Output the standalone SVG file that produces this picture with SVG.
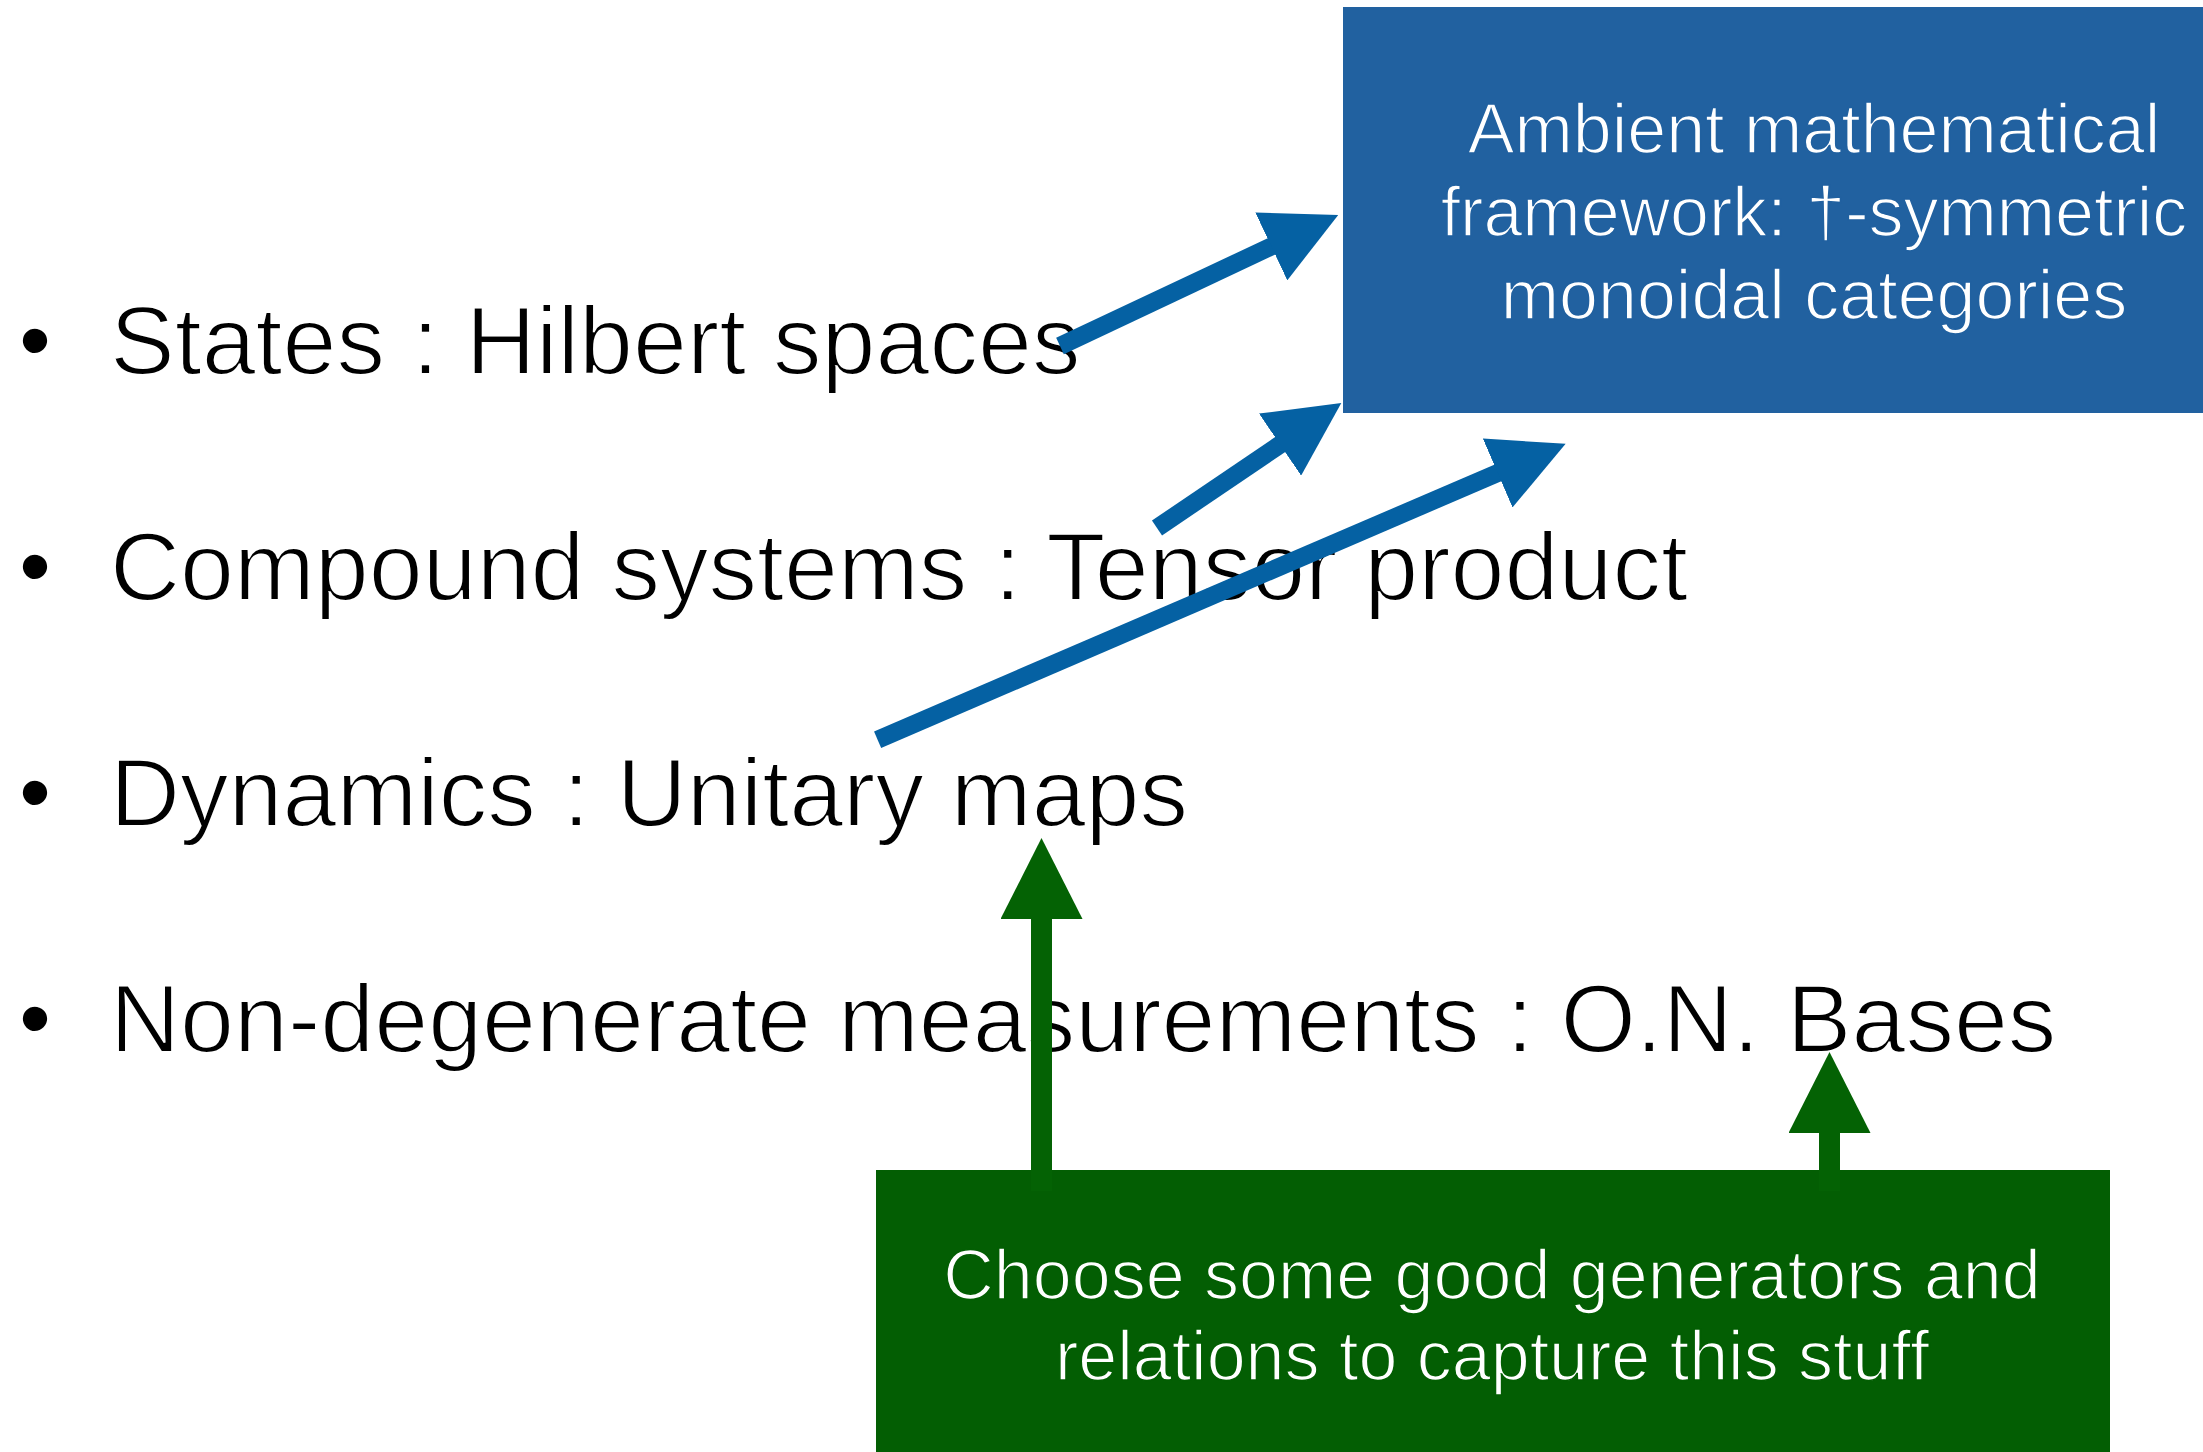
<svg xmlns="http://www.w3.org/2000/svg" width="2203" height="1452" viewBox="0 0 2203 1452">
  <style>
    .item { font-family: "Liberation Sans", Arial, sans-serif; font-size: 97px; fill: #000000; stroke: #ffffff; stroke-width: 2; }
    .boxtext { font-family: "Liberation Sans", Arial, sans-serif; font-size: 70px; fill: #ffffff; text-anchor: middle; stroke-width: 1.6; }
    #framework .boxtext { stroke: #2161a0; }
    #generators .boxtext { stroke: #035e03; }
    .blue-arrow { stroke: #0561a3; stroke-width: 18; fill: none; }
    .green-arrow { stroke: #046204; stroke-width: 21; fill: none; }
  </style>
  <defs>
    <marker id="head-blue" markerUnits="userSpaceOnUse" markerWidth="74" markerHeight="75" refX="2" refY="37.5" orient="auto">
      <path d="M0,0 L74,37.5 L0,75 z" fill="#0561a3"/>
    </marker>
    <marker id="head-green" markerUnits="userSpaceOnUse" markerWidth="81" markerHeight="82" refX="2" refY="41" orient="auto">
      <path d="M0,0 L81,41 L0,82 z" fill="#046204"/>
    </marker>
  </defs>

  <rect width="2203" height="1452" fill="#ffffff"/>

  <!-- bullet list -->
  <g id="item-states">
    <text class="item" x="18" y="373">•</text>
    <text class="item" x="110" y="374">States : Hilbert spaces</text>
  </g>
  <g id="item-compound">
    <text class="item" x="18" y="599">•</text>
    <text class="item" x="110" y="600">Compound systems : Tensor product</text>
  </g>
  <g id="item-dynamics">
    <text class="item" x="18" y="825">•</text>
    <text class="item" x="110" y="826">Dynamics : Unitary maps</text>
  </g>
  <g id="item-measurements">
    <text class="item" x="18" y="1051">•</text>
    <text class="item" x="110" y="1052">Non-degenerate measurements : O.N. Bases</text>
  </g>

  <!-- framework box -->
  <g id="framework">
    <rect x="1343" y="7" width="860" height="406" fill="#2161a0"/>
    <text class="boxtext" x="1814" y="153">Ambient mathematical</text>
    <text class="boxtext" x="1814" y="236">framework: †-symmetric</text>
    <text class="boxtext" x="1814" y="319">monoidal categories</text>
  </g>

  <!-- connectors -->
  <g id="connectors">
    <line class="blue-arrow" x1="1060" y1="346" x2="1273.1" y2="245.6" marker-end="url(#head-blue)"/>
    <line class="blue-arrow" x1="1157" y1="528" x2="1281.7" y2="443.5" marker-end="url(#head-blue)"/>
    <line class="blue-arrow" x1="877.6" y1="739.7" x2="1499.5" y2="472.2" marker-end="url(#head-blue)"/>
    <line class="green-arrow" x1="1041.5" y1="1191" x2="1041.5" y2="917" marker-end="url(#head-green)"/>
    <line class="green-arrow" x1="1829.5" y1="1191" x2="1829.5" y2="1131" marker-end="url(#head-green)"/>
  </g>

  <!-- generators box -->
  <g id="generators">
    <rect x="876" y="1170" width="1234" height="282" fill="#035e03"/>
    <line class="green-arrow" x1="1041.5" y1="1170" x2="1041.5" y2="1191"/>
    <line class="green-arrow" x1="1829.5" y1="1170" x2="1829.5" y2="1191"/>
    <text class="boxtext" x="1492" y="1299">Choose some good generators and</text>
    <text class="boxtext" x="1492" y="1380">relations to capture this stuff</text>
  </g>
</svg>
